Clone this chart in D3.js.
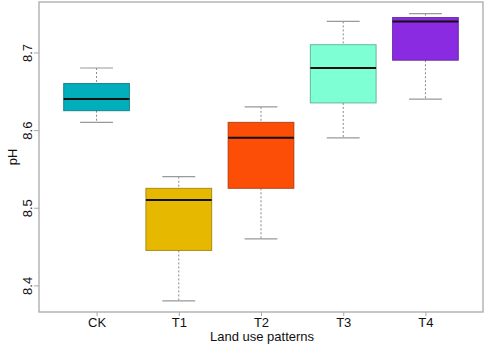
<!DOCTYPE html>
<html>
<head>
  <style>
    body, html { margin: 0; padding: 0; background: #fff; }
    svg { display: block; font-family: "Liberation Sans", Arial, sans-serif; }
  </style>
</head>
<body>
  <svg id="svg" width="486" height="346"></svg>

  <script src="https://d3js.org/d3.v7.min.js"></script>
  <script>
    // box stats
    const groups = ["CK", "T1", "T2", "T3", "T4"]
    const whiskerLow = [8.61, 8.38, 8.46, 8.59, 8.64]
    const q1 = [8.625, 8.445, 8.525, 8.635, 8.69]
    const median = [8.64, 8.51, 8.59, 8.68, 8.74]
    const q3 = [8.66, 8.525, 8.61, 8.71, 8.745]
    const whiskerHigh = [8.68, 8.54, 8.63, 8.74, 8.75]
    const fills = ["#00AFBB", "#E7B800", "#FC4E07", "#7FFFD4", "#8A2BE2"]
    const yTicks = [8.4, 8.5, 8.6, 8.7]

    const plotLeft = 39, plotRight = 483, plotTop = 2, plotBottom = 312

    const svg = d3.select("#svg")

    const x = d3.scalePoint()
      .domain(groups)
      .range([plotLeft, plotRight])
      .padding(0.7)

    const y = d3.scaleLinear()
      .domain([8.3657, 8.765])
      .range([plotBottom, plotTop])

    const boxW = x.step() * 0.8
    const capW = x.step() * 0.4

    const boxes = groups.map((g, i) => ({
      g, lo: whiskerLow[i], q1: q1[i], med: median[i], q3: q3[i], hi: whiskerHigh[i], fill: fills[i]
    }))

    const graph = svg.append("g")
    const box = graph.selectAll("g.box").data(boxes).join("g").attr("class", "box")

    // dashed whiskers
    box.append("line")
      .attr("x1", d => x(d.g)).attr("x2", d => x(d.g))
      .attr("y1", d => y(d.hi)).attr("y2", d => y(d.q3))
      .attr("stroke", "#888").attr("stroke-dasharray", "2,2")
    box.append("line")
      .attr("x1", d => x(d.g)).attr("x2", d => x(d.g))
      .attr("y1", d => y(d.q1)).attr("y2", d => y(d.lo))
      .attr("stroke", "#888").attr("stroke-dasharray", "2,2")

    // caps
    box.append("line")
      .attr("x1", d => x(d.g) - capW / 2).attr("x2", d => x(d.g) + capW / 2)
      .attr("y1", d => y(d.hi)).attr("y2", d => y(d.hi))
      .attr("stroke", "#999").attr("stroke-width", 1.2)
    box.append("line")
      .attr("x1", d => x(d.g) - capW / 2).attr("x2", d => x(d.g) + capW / 2)
      .attr("y1", d => y(d.lo)).attr("y2", d => y(d.lo))
      .attr("stroke", "#999").attr("stroke-width", 1.2)

    box.append("rect")
      .attr("x", d => x(d.g) - boxW / 2)
      .attr("width", boxW)
      .attr("y", d => y(d.q3))
      .attr("height", d => y(d.q1) - y(d.q3))
      .attr("fill", d => d.fill)
      .attr("stroke", d => d3.color(d.fill).darker(1.2))
      .attr("stroke-opacity", 0.8)

    box.append("line")
      .attr("x1", d => x(d.g) - boxW / 2).attr("x2", d => x(d.g) + boxW / 2)
      .attr("y1", d => y(d.med)).attr("y2", d => y(d.med))
      .attr("stroke", "#111").attr("stroke-width", 2)

    // frame
    svg.append("rect")
      .attr("x", plotLeft).attr("y", plotTop)
      .attr("width", plotRight - plotLeft).attr("height", plotBottom - plotTop)
      .attr("fill", "none").attr("stroke", "#aaa").attr("stroke-width", 1.3)

    const xAxis = svg.append("g")
      .attr("transform", `translate(0, ${plotBottom})`)
      .call(d3.axisBottom(x).tickSize(4).tickPadding(2))
    xAxis.select(".domain").remove()
    xAxis.selectAll("line").attr("stroke", "#aaa")
    xAxis.selectAll("text").attr("font-size", 13).attr("fill", "#111")
      .attr("font-family", "Liberation Sans, Arial, sans-serif")

    const yAxis = svg.append("g")
      .attr("transform", `translate(${plotLeft}, 0)`)
      .call(d3.axisLeft(y).tickValues(yTicks).tickFormat(d3.format(".1f")).tickSize(5))
    yAxis.select(".domain").remove()
    yAxis.selectAll("line").attr("stroke", "#aaa")
    yAxis.selectAll("text")
      .attr("font-size", 13).attr("fill", "#111")
      .attr("font-family", "Liberation Sans, Arial, sans-serif")
      .attr("x", null).attr("dy", null)
      .attr("text-anchor", "middle")
      .attr("transform", "translate(-7, 0) rotate(-90)")

    svg.append("text")
      .attr("x", (plotLeft + plotRight) / 2 + 1).attr("y", 341)
      .attr("text-anchor", "middle").attr("font-size", 13).attr("fill", "#111")
      .text("Land use patterns")

    svg.append("text")
      .attr("transform", `translate(17, ${(plotTop + plotBottom) / 2}) rotate(-90)`)
      .attr("text-anchor", "middle").attr("font-size", 13).attr("fill", "#111")
      .text("pH")
  </script>
</body>
</html>
